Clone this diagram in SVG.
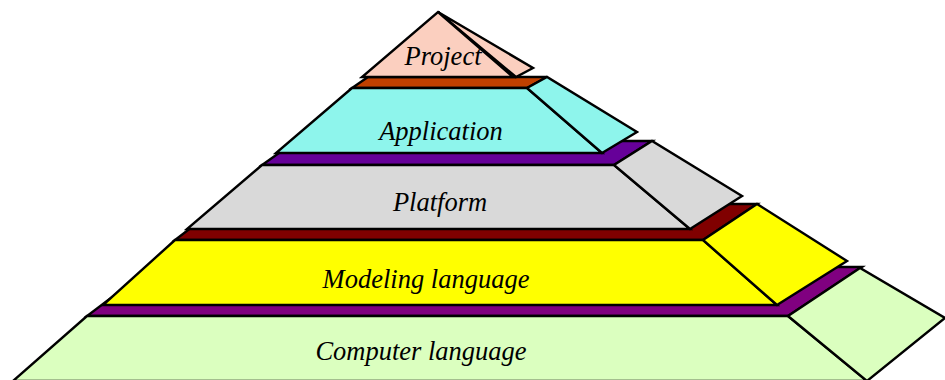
<svg xmlns="http://www.w3.org/2000/svg" width="945" height="380" viewBox="0 0 945 380">
<style>
  .f { stroke: #000; stroke-width: 2.4; stroke-linejoin: miter; }
  .lbl { font-family: "Liberation Serif", "DejaVu Serif", serif; font-style: italic; font-size: 26.5px; fill: #000; text-anchor: middle; }
</style>
<rect width="945" height="380" fill="#fff"/>
<g id="computer-language">
  <polygon class="f" fill="#800080" points="87,316 788,316 862,267 152,267"/>
  <polygon class="f" fill="#DBFFBF" points="87,316 788,316 867,381 13,381"/>
  <polygon class="f" fill="#DBFFBF" points="788,316 860,268 945,318 867,381"/>
  <text class="lbl" x="421" y="360">Computer language</text>
</g>
<g id="modeling-language">
  <polygon class="f" fill="#800000" points="175,240 703,240 757,204 222,204"/>
  <polygon class="f" fill="#FFFF00" points="175,240 703,240 777,305 103,305"/>
  <polygon class="f" fill="#FFFF00" points="703,240 757,204 847,261 777,305"/>
  <text class="lbl" x="426" y="288">Modeling language</text>
</g>
<g id="platform">
  <polygon class="f" fill="#660099" points="262,165 614,165 652,141 296,141"/>
  <polygon class="f" fill="#D9D9D9" points="262,165 614,165 690,229 187,229"/>
  <polygon class="f" fill="#D9D9D9" points="614,165 652,141 742,196 690,229"/>
  <text class="lbl" x="440" y="211">Platform</text>
</g>
<g id="application">
  <polygon class="f" fill="#C04000" points="352,88 527,88 547,77 368,77"/>
  <polygon class="f" fill="#8EF5EC" points="352,88 527,88 602,153 276,153"/>
  <polygon class="f" fill="#8EF5EC" points="527,88 547,77 637,132 602,153"/>
  <text class="lbl" x="441" y="140">Application</text>
</g>
<g id="project">
  <polygon class="f" fill="#FBCFBF" points="438,12 533,68 516,77"/>
  <polygon class="f" fill="#FBCFBF" points="438,12 513,77 362,77"/>
  <text class="lbl" x="443" y="65">Project</text>
</g>
</svg>
